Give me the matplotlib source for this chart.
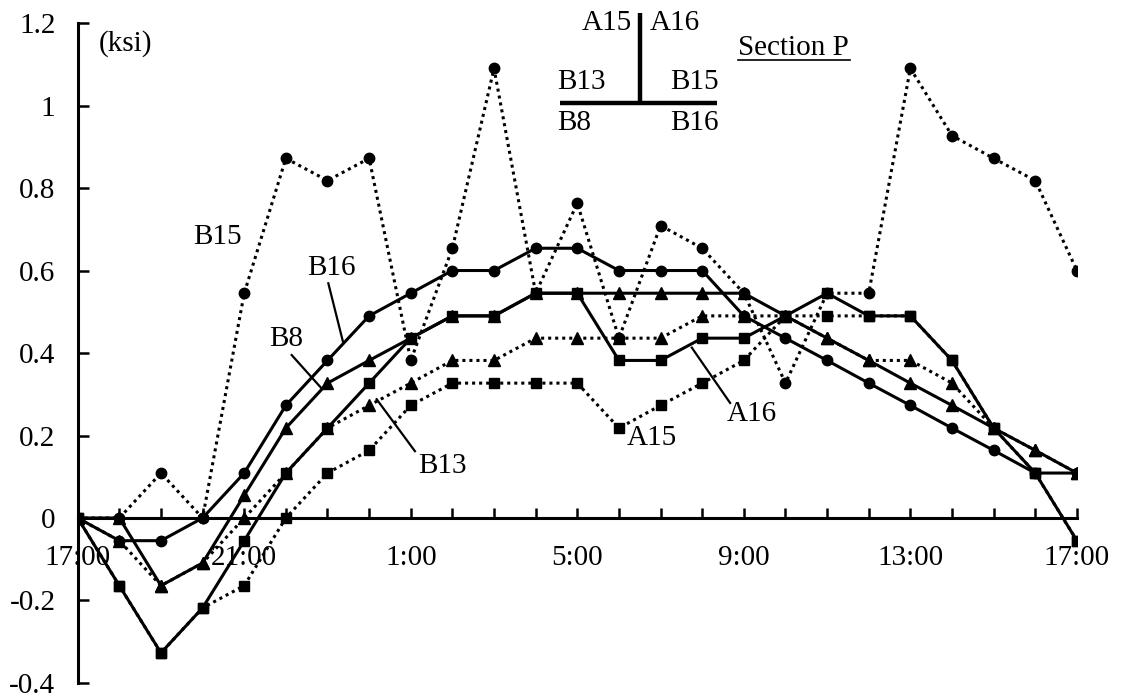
import matplotlib
matplotlib.use("Agg")
import matplotlib.pyplot as plt
import numpy as np

plt.rcParams['font.family'] = ['Liberation Serif', 'DejaVu Serif']

# Hourly readings from 17:00 to 17:00 the next day (ksi)
hours = list(range(25))
tick_labels = ["17:00", "21:00", "1:00", "5:00", "9:00", "13:00", "17:00"]

B15 = [0, 0, 0.109, 0, 0.545, 0.872, 0.818, 0.872, 0.382, 0.654, 1.09, 0.545, 0.763,
       0.436, 0.709, 0.654, 0.545, 0.327, 0.545, 0.545, 1.09, 0.927, 0.872, 0.818, 0.6]
B16 = [0, -0.055, -0.055, 0, 0.109, 0.273, 0.382, 0.49, 0.545, 0.6, 0.6, 0.654, 0.654,
       0.6, 0.6, 0.6, 0.49, 0.436, 0.382, 0.327, 0.273, 0.218, 0.164, 0.109, 0.109]
B8 = [0, 0, -0.164, -0.109, 0.055, 0.218, 0.327, 0.382, 0.436, 0.49, 0.49, 0.545, 0.545,
      0.545, 0.545, 0.545, 0.545, 0.49, 0.436, 0.382, 0.327, 0.273, 0.218, 0.164, 0.109]
B13 = [0, -0.055, -0.164, -0.109, 0, 0.109, 0.218, 0.273, 0.327, 0.382, 0.382, 0.436, 0.436,
       0.436, 0.436, 0.49, 0.49, 0.49, 0.436, 0.382, 0.382, 0.327, 0.218, 0.164, 0.109]
A16 = [0, -0.164, -0.327, -0.218, -0.055, 0.109, 0.218, 0.327, 0.436, 0.49, 0.49, 0.545, 0.545,
       0.382, 0.382, 0.436, 0.436, 0.49, 0.545, 0.49, 0.49, 0.382, 0.218, 0.109, -0.055]
A15 = [0, -0.164, -0.327, -0.218, -0.164, 0, 0.109, 0.164, 0.273, 0.327, 0.327, 0.327, 0.327,
       0.218, 0.273, 0.327, 0.382, 0.49, 0.49, 0.49, 0.49, 0.382, 0.218, 0.109, -0.055]

fig = plt.figure(figsize=(11.26, 6.98), dpi=100)
ax = fig.add_axes([0.069, 0.0215, 0.8874, 0.9455])

FS = 21
dotted = (0, (1.0, 1.3))
lw = 2.2

ax.plot(hours, B15, color='black', lw=lw, ls=dotted, marker='o', ms=7.5)
ax.plot(hours, A15, color='black', lw=lw, ls=dotted, marker='s', ms=7.5)
ax.plot(hours, B13, color='black', lw=lw, ls=dotted, marker='^', ms=8.5)
ax.plot(hours, B16, color='black', lw=lw, ls='-', marker='o', ms=7.5)
ax.plot(hours, B8, color='black', lw=lw, ls='-', marker='^', ms=8.5)
ax.plot(hours, A16, color='black', lw=lw, ls='-', marker='s', ms=7.5)

ax.set_xlim(0, 24)
ax.set_ylim(-0.4, 1.2)

for s in ('top', 'right'):
    ax.spines[s].set_visible(False)
ax.spines['bottom'].set_position(('data', 0))
ax.spines['bottom'].set_linewidth(2.2)
ax.spines['left'].set_linewidth(2.2)

ax.set_xticks(range(0, 25, 4))
ax.set_xticklabels(tick_labels)
ax.set_xticks(range(25), minor=True)
ax.tick_params(axis='x', which='both', direction='in', length=7, width=1.8)
ax.tick_params(axis='x', which='major', labelsize=FS, pad=19.5)

yt = [-0.4, -0.2, 0, 0.2, 0.4, 0.6, 0.8, 1, 1.2]
ax.set_yticks(yt)
ax.set_yticklabels(["-0.4", "-0.2", "0", "0.2", "0.4", "0.6", "0.8", "1", "1.2"])
ax.tick_params(axis='y', direction='in', length=8, width=1.8, labelsize=FS, pad=16)

# Unit and series labels
ax.text(1.14, 1.151, "(ksi)", fontsize=FS, ha='center', va='center')
ax.text(3.36, 0.682, "B15", fontsize=FS, ha='center', va='center')
ax.text(6.10, 0.606, "B16", fontsize=FS, ha='center', va='center')
ax.text(5.00, 0.435, "B8", fontsize=FS, ha='center', va='center')
ax.text(8.75, 0.126, "B13", fontsize=FS, ha='center', va='center')
ax.text(13.79, 0.194, "A15", fontsize=FS, ha='center', va='center')
ax.text(16.19, 0.251, "A16", fontsize=FS, ha='center', va='center')

# Leader lines from labels to curves
leaders = [((6.02, 0.569), (6.37, 0.428)),
           ((5.14, 0.395), (5.86, 0.314)),
           ((8.10, 0.162), (7.18, 0.288)),
           ((15.67, 0.279), (14.75, 0.413))]
for (x0, y0), (x1, y1) in leaders:
    ax.plot([x0, x1], [y0, y1], color='black', lw=1.6)

# Section sketch with gauge locations
ax.plot([13.51, 13.51], [1.224, 1.008], color='black', lw=3.2, clip_on=False, solid_capstyle='butt')
ax.plot([11.58, 15.36], [1.006, 1.006], color='black', lw=3.2, clip_on=False, solid_capstyle='butt')
ax.text(13.31, 1.20, "A15", fontsize=FS, ha='right', va='center')
ax.text(13.75, 1.20, "A16", fontsize=FS, ha='left', va='center')
ax.text(11.51, 1.056, "B13", fontsize=FS, ha='left', va='center')
ax.text(15.39, 1.056, "B15", fontsize=FS, ha='right', va='center')
ax.text(11.51, 0.957, "B8", fontsize=FS, ha='left', va='center')
ax.text(15.39, 0.957, "B16", fontsize=FS, ha='right', va='center')
ax.text(15.86, 1.139, "Section P", fontsize=FS, ha='left', va='center')
ax.plot([15.86, 18.55], [1.110, 1.110], color='black', lw=1.2)

fig.savefig("out.png", dpi=100, facecolor='white')
